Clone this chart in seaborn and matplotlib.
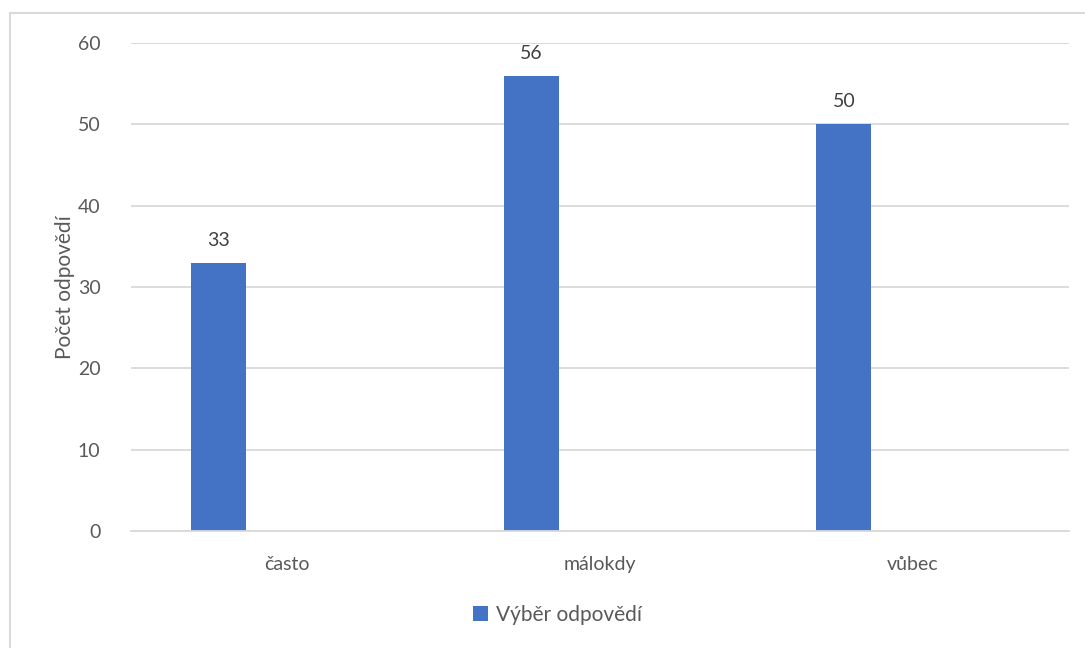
import pandas as pd
import matplotlib.pyplot as plt
import seaborn as sns
from matplotlib.patches import Rectangle, Patch

# Data
categories = ['často', 'málokdy', 'vůbec']
values = [33, 56, 50]
series_name = 'Výběr odpovědí'

df = pd.DataFrame({
    'kategorie': categories * 2,
    'serie': [series_name] * 3 + ['_prazdna'] * 3,
    'pocet': values + [float('nan')] * 3,
})

sns.set_style('white')
plt.rcParams['font.family'] = ['Lato', 'DejaVu Sans']
text_color = '#595959'
bar_color = '#4472C4'

fig = plt.figure(figsize=(10.85, 6.48), dpi=100)
ax = fig.add_axes([0.1207, 0.1806, 0.8646, 0.753])

sns.barplot(data=df, x='kategorie', y='pocet', hue='serie',
            palette=[bar_color, bar_color], width=0.88, gap=0.6,
            saturation=1, legend=False, linewidth=0, ax=ax)

ax.set_ylim(0, 60)
ax.set_yticks(range(0, 61, 10))
ax.grid(axis='y', color='#d9d9d9', linewidth=1.3)
ax.set_axisbelow(True)
for side in ['top', 'right', 'left']:
    ax.spines[side].set_visible(False)
ax.spines['bottom'].set_color('#d9d9d9')
ax.spines['bottom'].set_linewidth(1.3)
ax.tick_params(axis='both', length=0, labelsize=14, colors=text_color)
ax.tick_params(axis='y', pad=22)
ax.tick_params(axis='x', pad=18)
ax.set_xlabel('')
ax.set_ylabel('Počet odpovědí', fontsize=15, color=text_color, labelpad=2)

# data labels
ax.bar_label(ax.containers[0], fontsize=14, color='#404040', padding=10)

# legend
handle = Patch(facecolor=bar_color, edgecolor='none')
fig.legend([handle], [series_name], loc='center', bbox_to_anchor=(0.514, 0.051),
           frameon=False, fontsize=15, handlelength=0.7, handleheight=0.7,
           handletextpad=0.4, labelcolor=text_color)

# chart border
fig.patches.append(Rectangle((10 / 1085, -0.05), 1.1, 0.05 + 1 - 13 / 648,
                             transform=fig.transFigure, fill=False,
                             edgecolor='#d9d9d9', linewidth=1.5))

fig.savefig('out.png', dpi=100)
